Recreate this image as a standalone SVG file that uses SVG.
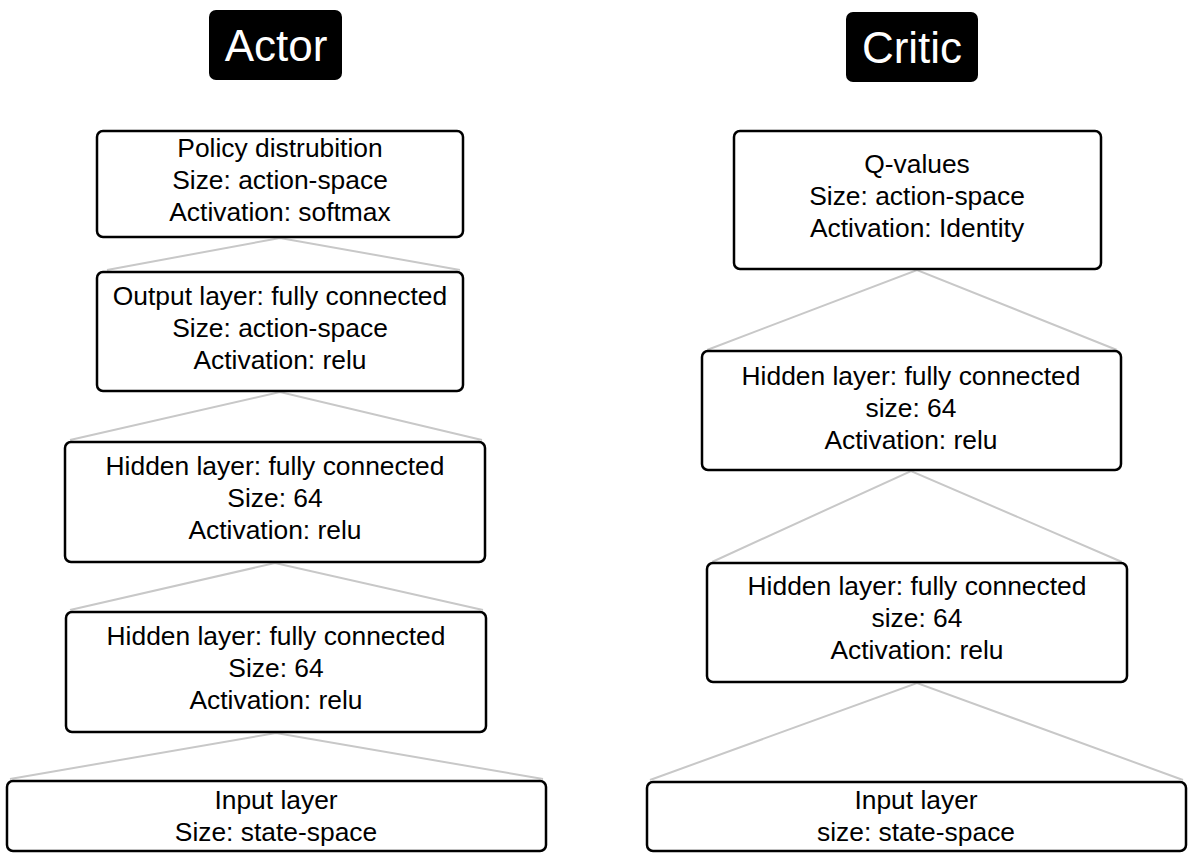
<svg xmlns="http://www.w3.org/2000/svg" width="1194" height="862" viewBox="0 0 1194 862">
<style>
.box{fill:#fff;stroke:#000;stroke-width:2.5}
.title{fill:#000}
.tt{font-family:"Liberation Sans",Arial,sans-serif;font-size:44px;fill:#fff;text-anchor:middle}
.t{font-family:"Liberation Sans",Arial,sans-serif;font-size:26.4px;fill:#000;text-anchor:middle}
.c{stroke:#c8c8c8;stroke-width:2;fill:none}
</style>
<rect width="1194" height="862" fill="#fff"/>
<g id="connectors">
<polyline class="c" points="107,270 280,238 460,270"/>
<polyline class="c" points="70,440 280,392 482,440"/>
<polyline class="c" points="70,610 275,563 483,610"/>
<polyline class="c" points="10,779 276,733 543,779"/>
<polyline class="c" points="707,350 917,270 1117,350"/>
<polyline class="c" points="712,562 911,471 1122,562"/>
<polyline class="c" points="650,780 917,683 1183,780"/>
</g>
<g id="actor-title">
<rect class="title" x="209" y="10" width="133" height="70" rx="7"/>
<text class="tt" x="276" y="61">Actor</text>
</g>
<g id="critic-title">
<rect class="title" x="846" y="12" width="132" height="70" rx="7"/>
<text class="tt" x="912" y="63">Critic</text>
</g>
<g id="actor-policy">
<rect class="box" x="97" y="131" width="366" height="106" rx="6"/>
<text class="t" x="280" y="157">Policy distrubition</text>
<text class="t" x="280" y="189">Size: action-space</text>
<text class="t" x="280" y="221">Activation: softmax</text>
</g>
<g id="actor-output">
<rect class="box" x="97" y="272" width="366" height="119" rx="6"/>
<text class="t" x="280" y="305">Output layer: fully connected</text>
<text class="t" x="280" y="337">Size: action-space</text>
<text class="t" x="280" y="369">Activation: relu</text>
</g>
<g id="actor-hidden1">
<rect class="box" x="65" y="442" width="420" height="120" rx="6"/>
<text class="t" x="275" y="475">Hidden layer: fully connected</text>
<text class="t" x="275" y="507">Size: 64</text>
<text class="t" x="275" y="539">Activation: relu</text>
</g>
<g id="actor-hidden2">
<rect class="box" x="66" y="612" width="420" height="120" rx="6"/>
<text class="t" x="276" y="645">Hidden layer: fully connected</text>
<text class="t" x="276" y="677">Size: 64</text>
<text class="t" x="276" y="709">Activation: relu</text>
</g>
<g id="actor-input">
<rect class="box" x="7" y="781" width="539" height="70" rx="6"/>
<text class="t" x="276" y="809">Input layer</text>
<text class="t" x="276" y="841">Size: state-space</text>
</g>
<g id="critic-q">
<rect class="box" x="734" y="131" width="367" height="138" rx="6"/>
<text class="t" x="917" y="173">Q-values</text>
<text class="t" x="917" y="205">Size: action-space</text>
<text class="t" x="917" y="237">Activation: Identity</text>
</g>
<g id="critic-hidden1">
<rect class="box" x="702" y="351" width="419" height="119" rx="6"/>
<text class="t" x="911" y="385">Hidden layer: fully connected</text>
<text class="t" x="911" y="417">size: 64</text>
<text class="t" x="911" y="449">Activation: relu</text>
</g>
<g id="critic-hidden2">
<rect class="box" x="707" y="563" width="420" height="119" rx="6"/>
<text class="t" x="917" y="595">Hidden layer: fully connected</text>
<text class="t" x="917" y="627">size: 64</text>
<text class="t" x="917" y="659">Activation: relu</text>
</g>
<g id="critic-input">
<rect class="box" x="647" y="782" width="539" height="69" rx="6"/>
<text class="t" x="916" y="809">Input layer</text>
<text class="t" x="916" y="841">size: state-space</text>
</g>
</svg>
